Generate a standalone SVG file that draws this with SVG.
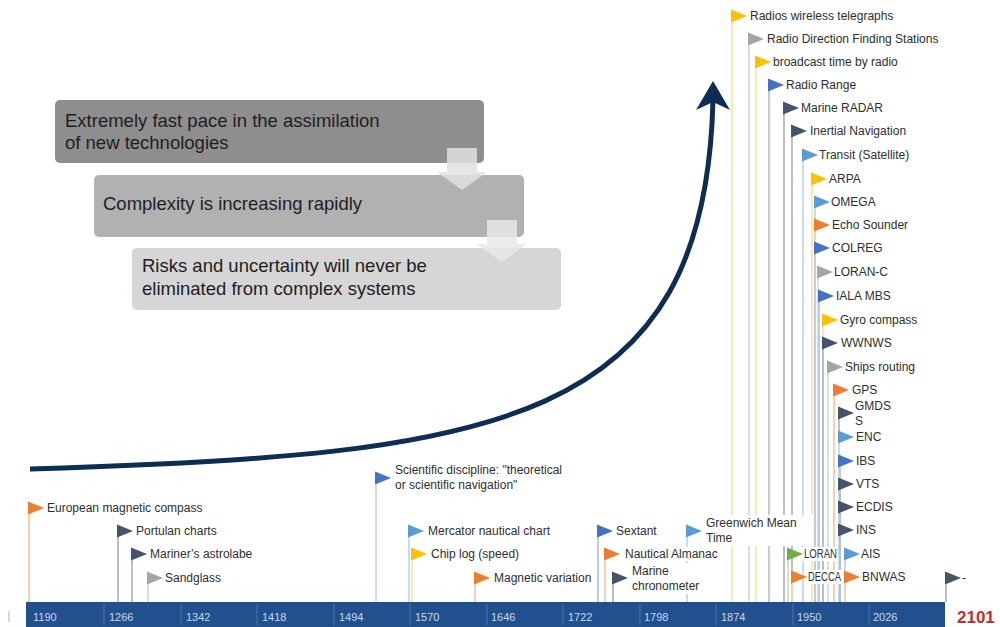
<svg xmlns="http://www.w3.org/2000/svg" xmlns:xlink="http://www.w3.org/1999/xlink" width="1000" height="627" viewBox="0 0 1000 627">
  <style>
    .lbl { font-family: "Liberation Sans", Arial, sans-serif; font-size: 12px; fill: #2e2e2e; }
    .box-txt { font-family: "Liberation Sans", Arial, sans-serif; font-size: 18.5px; fill: #1e1e1e; }
    .tick { font-family: "Liberation Sans", Arial, sans-serif; font-size: 11px; fill: #c9d7ec; }
    .stem { stroke-width: 2; fill: none; }
    .bg { fill: #ffffff; }
    .f-or { fill: #ed7d31; } .s-or { stroke: #f8cfb3; }
    .f-nv { fill: #44546a; } .s-nv { stroke: #b7c0cd; }
    .f-gy { fill: #a5a5a5; } .s-gy { stroke: #dedede; }
    .f-ye { fill: #ffc000; } .s-ye { stroke: #fbe9b0; }
    .f-lb { fill: #5b9bd5; } .s-lb { stroke: #c6dcf0; }
    .f-bl { fill: #4472c4; } .s-bl { stroke: #bccbe8; }
    .f-gr { fill: #70ad47; } .s-gr { stroke: #cfe5c0; }
  </style>
  <defs>
    <path id="flag" d="M0,-6.5 L16,0 L0,6.5 Z"/>
  </defs>

  <rect width="1000" height="627" fill="#ffffff"/>

  <!-- Summary boxes -->
  <g id="box-pace">
    <rect x="55" y="100" width="429" height="63" rx="5" fill="#8e8e8e"/>
    <text class="box-txt" x="65" y="127">Extremely fast pace in the assimilation</text>
    <text class="box-txt" x="65" y="149">of new technologies</text>
  </g>
  <g id="box-complexity">
    <rect x="94" y="175" width="430" height="62" rx="5" fill="#b1b1b1"/>
    <text class="box-txt" x="103" y="210">Complexity is increasing rapidly</text>
  </g>
  <g id="box-risks">
    <rect x="132" y="248" width="429" height="62" rx="5" fill="#d6d6d6"/>
    <text class="box-txt" x="142" y="272">Risks and uncertainty will never be</text>
    <text class="box-txt" x="142" y="295">eliminated from complex systems</text>
  </g>

  <!-- Timeline bar -->
  <g id="timeline">
    <rect x="26" y="602" width="919" height="25" fill="#21508f"/>
    <g stroke="#4c74aa" stroke-width="1">
      <line x1="104" y1="604" x2="104" y2="625"/>
      <line x1="181" y1="604" x2="181" y2="625"/>
      <line x1="257" y1="604" x2="257" y2="625"/>
      <line x1="334" y1="604" x2="334" y2="625"/>
      <line x1="410" y1="604" x2="410" y2="625"/>
      <line x1="487" y1="604" x2="487" y2="625"/>
      <line x1="563" y1="604" x2="563" y2="625"/>
      <line x1="640" y1="604" x2="640" y2="625"/>
      <line x1="716" y1="604" x2="716" y2="625"/>
      <line x1="793" y1="604" x2="793" y2="625"/>
      <line x1="869" y1="604" x2="869" y2="625"/>
    </g>
    <text class="tick" x="33" y="621">1190</text>
    <text class="tick" x="109" y="621">1266</text>
    <text class="tick" x="186" y="621">1342</text>
    <text class="tick" x="262" y="621">1418</text>
    <text class="tick" x="339" y="621">1494</text>
    <text class="tick" x="415" y="621">1570</text>
    <text class="tick" x="491" y="621">1646</text>
    <text class="tick" x="568" y="621">1722</text>
    <text class="tick" x="644" y="621">1798</text>
    <text class="tick" x="721" y="621">1874</text>
    <text class="tick" x="797" y="621">1950</text>
    <text class="tick" x="873" y="621">2026</text>
    <line x1="9" y1="611" x2="9" y2="622" stroke="#b0b0b0" stroke-width="1"/>
    <text x="957" y="623" font-family="Liberation Sans, Arial, sans-serif" font-size="17" font-weight="bold" fill="#c0302a">2101</text>
  </g>

  <!-- Early milestones -->
  <g id="n-compass"><line class="stem s-or" x1="29" y1="502" x2="29" y2="602"/><use href="#flag" x="28" y="508" class="f-or"/><text class="lbl" x="47" y="512">European magnetic compass</text></g>
  <g id="n-portulan"><line class="stem s-nv" x1="118" y1="525" x2="118" y2="602"/><use href="#flag" x="117" y="531" class="f-nv"/><text class="lbl" x="136" y="535">Portulan charts</text></g>
  <g id="n-astrolabe"><line class="stem s-nv" x1="132" y1="548" x2="132" y2="602"/><use href="#flag" x="131" y="554" class="f-nv"/><text class="lbl" x="150" y="558">Mariner’s astrolabe</text></g>
  <g id="n-sandglass"><line class="stem s-gy" x1="148" y1="572" x2="148" y2="602"/><use href="#flag" x="147" y="578" class="f-gy"/><text class="lbl" x="165" y="582">Sandglass</text></g>
  <g id="n-scientific"><line class="stem s-lb" x1="376" y1="472" x2="376" y2="602"/><use href="#flag" x="375" y="478" class="f-bl"/><text class="lbl" x="395" y="474">Scientific discipline: "theoretical</text><text class="lbl" x="395" y="489">or scientific navigation"</text></g>
  <g id="n-mercator"><line class="stem s-lb" x1="409" y1="525" x2="409" y2="602"/><use href="#flag" x="408" y="531" class="f-lb"/><text class="lbl" x="428" y="535">Mercator nautical chart</text></g>
  <g id="n-chiplog"><line class="stem s-ye" x1="412" y1="548" x2="412" y2="602"/><use href="#flag" x="411" y="554" class="f-ye"/><text class="lbl" x="431" y="558">Chip log (speed)</text></g>
  <g id="n-magvar"><line class="stem s-or" x1="475" y1="572" x2="475" y2="602"/><use href="#flag" x="474" y="578" class="f-or"/><text class="lbl" x="494" y="582">Magnetic variation</text></g>
  <g id="n-sextant"><line class="stem s-bl" x1="598" y1="525" x2="598" y2="602"/><use href="#flag" x="597" y="531" class="f-bl"/><text class="lbl" x="616" y="535">Sextant</text></g>

  <!-- Radio and electronic era -->
  <g id="n-radios"><line class="stem s-ye" x1="732" y1="10" x2="732" y2="602"/><use href="#flag" x="731" y="16" class="f-ye"/><text class="lbl" x="750" y="20">Radios wireless telegraphs</text></g>
  <g id="n-rdf"><line class="stem s-gy" x1="749" y1="33" x2="749" y2="602"/><use href="#flag" x="748" y="39" class="f-gy"/><text class="lbl" x="767" y="43">Radio Direction Finding Stations</text></g>
  <g id="n-broadcast"><line class="stem s-ye" x1="756" y1="56" x2="756" y2="602"/><use href="#flag" x="755" y="62" class="f-ye"/><text class="lbl" x="773" y="66">broadcast time by radio</text></g>
  <g id="n-radiorange"><line class="stem s-bl" x1="769" y1="79" x2="769" y2="602"/><use href="#flag" x="768" y="85" class="f-bl"/><text class="lbl" x="786" y="89">Radio Range</text></g>
  <g id="n-radar"><line class="stem s-nv" x1="784" y1="102" x2="784" y2="602"/><use href="#flag" x="783" y="108" class="f-nv"/><text class="lbl" x="801" y="112">Marine RADAR</text></g>
  <g id="n-inertial"><line class="stem s-nv" x1="792" y1="125" x2="792" y2="602"/><use href="#flag" x="791" y="131" class="f-nv"/><text class="lbl" x="810" y="135">Inertial Navigation</text></g>
  <g id="n-transit"><line class="stem s-lb" x1="803" y1="149" x2="803" y2="602"/><use href="#flag" x="802" y="155" class="f-lb"/><text class="lbl" x="819" y="159">Transit (Satellite)</text></g>
  <g id="n-arpa"><line class="stem s-ye" x1="812" y1="173" x2="812" y2="602"/><use href="#flag" x="811" y="179" class="f-ye"/><text class="lbl" x="829" y="183">ARPA</text></g>
  <g id="n-omega"><line class="stem s-lb" x1="815" y1="196" x2="815" y2="602"/><use href="#flag" x="814" y="202" class="f-lb"/><text class="lbl" x="831" y="206">OMEGA</text></g>
  <g id="n-echo"><line class="stem s-or" x1="815" y1="219" x2="815" y2="602"/><use href="#flag" x="814" y="225" class="f-or"/><text class="lbl" x="832" y="229">Echo Sounder</text></g>
  <g id="n-colreg"><line class="stem s-bl" x1="815" y1="242" x2="815" y2="602"/><use href="#flag" x="814" y="248" class="f-bl"/><text class="lbl" x="832" y="252">COLREG</text></g>
  <g id="n-loranc"><line class="stem s-gy" x1="818" y1="266" x2="818" y2="602"/><use href="#flag" x="817" y="272" class="f-gy"/><text class="lbl" x="834" y="276">LORAN-C</text></g>
  <g id="n-iala"><line class="stem s-bl" x1="819" y1="290" x2="819" y2="602"/><use href="#flag" x="818" y="296" class="f-bl"/><text class="lbl" x="836" y="300">IALA MBS</text></g>
  <g id="n-gyro"><line class="stem s-ye" x1="823" y1="314" x2="823" y2="602"/><use href="#flag" x="822" y="320" class="f-ye"/><text class="lbl" x="840" y="324">Gyro compass</text></g>
  <g id="n-wwnws"><line class="stem s-nv" x1="823" y1="337" x2="823" y2="602"/><use href="#flag" x="822" y="343" class="f-nv"/><text class="lbl" x="841" y="347">WWNWS</text></g>
  <g id="n-routing"><line class="stem s-gy" x1="828" y1="361" x2="828" y2="602"/><use href="#flag" x="827" y="367" class="f-gy"/><text class="lbl" x="845" y="371">Ships routing</text></g>
  <g id="n-gps"><line class="stem s-or" x1="834" y1="384" x2="834" y2="602"/><use href="#flag" x="833" y="390" class="f-or"/><text class="lbl" x="852" y="394">GPS</text></g>
  <g id="n-gmdss"><line class="stem s-nv" x1="839" y1="407" x2="839" y2="602"/><use href="#flag" x="838" y="413" class="f-nv"/><text class="lbl" x="855" y="410">GMDS</text><text class="lbl" x="855" y="425">S</text></g>
  <g id="n-enc"><line class="stem s-lb" x1="839" y1="431" x2="839" y2="602"/><use href="#flag" x="838" y="437" class="f-lb"/><text class="lbl" x="856" y="441">ENC</text></g>
  <g id="n-ibs"><line class="stem s-bl" x1="840" y1="455" x2="840" y2="602"/><use href="#flag" x="838" y="461" class="f-bl"/><text class="lbl" x="856" y="465">IBS</text></g>
  <g id="n-vts"><line class="stem s-nv" x1="840" y1="478" x2="840" y2="602"/><use href="#flag" x="838" y="484" class="f-nv"/><text class="lbl" x="856" y="488">VTS</text></g>
  <g id="n-ecdis"><line class="stem s-nv" x1="840" y1="501" x2="840" y2="602"/><use href="#flag" x="838" y="507" class="f-nv"/><text class="lbl" x="856" y="511">ECDIS</text></g>
  <g id="n-ins"><line class="stem s-nv" x1="840" y1="524" x2="840" y2="602"/><use href="#flag" x="838" y="530" class="f-nv"/><text class="lbl" x="856" y="534">INS</text></g>
  <g id="n-ais"><line class="stem s-lb" x1="845" y1="548" x2="845" y2="602"/><use href="#flag" x="844" y="554" class="f-lb"/><text class="lbl" x="861" y="558">AIS</text></g>
  <g id="n-bnwas"><line class="stem s-or" x1="845" y1="571" x2="845" y2="602"/><use href="#flag" x="844" y="577" class="f-or"/><text class="lbl" x="862" y="581">BNWAS</text></g>
  <g id="n-future"><line class="stem s-nv" x1="946" y1="572" x2="946" y2="602"/><use href="#flag" x="945" y="578" class="f-nv"/><text class="lbl" x="962" y="582">-</text></g>

  <!-- Labels with a white backing, drawn over the taller stems -->
  <g id="n-gmt"><line class="stem s-lb" x1="687" y1="525" x2="687" y2="602"/><rect class="bg" x="703" y="515" width="110" height="31"/><use href="#flag" x="686" y="531" class="f-lb"/><text class="lbl" x="706" y="527">Greenwich Mean</text><text class="lbl" x="706" y="542">Time</text></g>
  <g id="n-almanac"><line class="stem s-or" x1="605" y1="548" x2="605" y2="602"/><rect class="bg" x="622" y="547" width="100" height="14"/><use href="#flag" x="604" y="554" class="f-or"/><text class="lbl" x="625" y="558">Nautical Almanac</text></g>
  <g id="n-chronometer"><line class="stem s-nv" x1="613" y1="572" x2="613" y2="602"/><rect class="bg" x="629" y="563" width="78" height="31"/><use href="#flag" x="612" y="578" class="f-nv"/><text class="lbl" x="632" y="575">Marine</text><text class="lbl" x="632" y="590">chronometer</text></g>
  <g id="n-loran"><line class="stem s-gr" x1="788" y1="548" x2="788" y2="602"/><rect class="bg" x="802" y="547" width="36" height="14"/><use href="#flag" x="787" y="554" class="f-gr"/><text class="lbl" x="804" y="558" textLength="33" lengthAdjust="spacingAndGlyphs">LORAN</text></g>
  <g id="n-decca"><line class="stem s-or" x1="792" y1="571" x2="792" y2="602"/><rect class="bg" x="806" y="570" width="37" height="14"/><use href="#flag" x="791" y="577" class="f-or"/><text class="lbl" x="808" y="581" textLength="33" lengthAdjust="spacingAndGlyphs">DECCA</text></g>

  <!-- Connectors: growth curve and step arrows -->
  <g id="connectors">
    <path d="M447,148 H477 V172 H487 L462,190 L437,172 H447 Z" fill="#e0e0e0" fill-opacity="0.85"/>
    <path d="M487,220 H517 V244 H527 L502,262 L477,244 H487 Z" fill="#e8e8e8" fill-opacity="0.85"/>
    <path d="M30,469 C 500,455 705,425 713,100" fill="none" stroke="#0e2d52" stroke-width="5"/>
    <path d="M713,81 L730,110 L713,102 L696,110 Z" fill="#0e2d52"/>
  </g>
</svg>
